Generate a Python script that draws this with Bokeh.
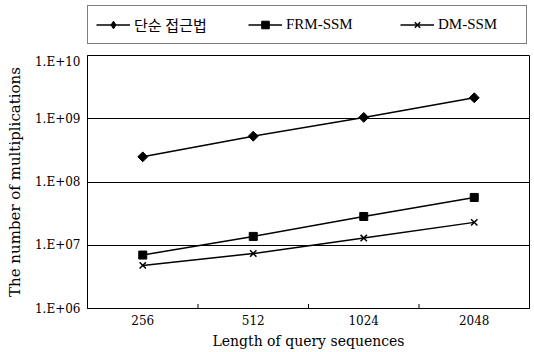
import math
from bokeh.plotting import figure
from bokeh.layouts import column
from bokeh.models import (FactorRange, Range1d, FixedTicker, ColumnDataSource,
                          CustomJSTickFormatter, Legend, LegendItem)
from bokeh.transform import dodge
from bokeh.embed import file_html
from bokeh.resources import INLINE

# ---- data ----
lengths = ["256", "512", "1024", "2048"]
naive = [2.5e8, 5.3e8, 1.05e9, 2.15e9]
frm_ssm = [7.0e6, 1.38e7, 2.85e7, 5.7e7]
dm_ssm = [4.8e6, 7.4e6, 1.3e7, 2.3e7]
y_ticks = [1e6, 1e7, 1e8, 1e9, 1e10]
series_names = ["단순 접근법", "FRM-SSM", "DM-SSM"]
x_title = "Length of query sequences"
y_title = "The number of multiplications"

SERIF = "DejaVu Serif"


def draw_series(fig, for_legend=False):
    r1 = fig.line(lengths, naive, line_color="black", line_width=1.5)
    if for_legend:
        s1 = fig.scatter(lengths, naive, marker="diamond", size=11, color="black")
    else:
        s1 = fig.scatter(lengths, naive, marker="square", angle=math.pi / 4, size=7, color="black")
    r2 = fig.line(lengths, frm_ssm, line_color="black", line_width=1.5)
    s2 = fig.scatter(lengths, frm_ssm, marker="square", size=8, color="black")
    r3 = fig.line(lengths, dm_ssm, line_color="black", line_width=1.5)
    s3 = fig.scatter(lengths, dm_ssm, marker="x", size=9, line_color="black", line_width=1.5)
    return [(r1, s1), (r2, s2), (r3, s3)]


# ---------------- main chart ----------------
p = figure(width=534, height=298,
           x_range=FactorRange(factors=lengths, range_padding=0),
           y_range=Range1d(y_ticks[0], y_ticks[-1]), y_axis_type="log",
           output_backend="svg", toolbar_location=None,
           min_border_left=87, min_border_right=5,
           min_border_top=1, min_border_bottom=44)
p.background_fill_color = "white"
p.border_fill_color = "white"
p.outline_line_color = "black"
p.outline_line_width = 1

xaxis = p.xaxis[0]
xaxis.axis_label = x_title
xaxis.axis_label_text_font = SERIF
xaxis.axis_label_text_font_size = "14px"
xaxis.axis_label_text_font_style = "normal"
xaxis.axis_label_text_color = "black"
xaxis.axis_label_standoff = 5
xaxis.major_label_text_font = SERIF
xaxis.major_label_text_font_size = "12px"
xaxis.major_label_text_color = "black"
xaxis.major_label_standoff = 6
xaxis.major_tick_in = 0
xaxis.major_tick_out = 0
xaxis.axis_line_color = "black"

yaxis = p.yaxis[0]
yaxis.ticker = FixedTicker(ticks=y_ticks, minor_ticks=[])
yaxis.formatter = CustomJSTickFormatter(code="""
const e = Math.round(Math.log10(tick));
return '1.E' + (e >= 0 ? '+' : '-') + String(Math.abs(e)).padStart(2, '0');
""")
yaxis.axis_label = y_title
yaxis.axis_label_text_font = SERIF
yaxis.axis_label_text_font_size = "15px"
yaxis.axis_label_text_font_style = "normal"
yaxis.axis_label_text_color = "black"
yaxis.axis_label_standoff = 8
yaxis.major_label_text_font = SERIF
yaxis.major_label_text_font_size = "12px"
yaxis.major_label_text_color = "black"
yaxis.major_label_standoff = 7
yaxis.major_tick_in = 0
yaxis.major_tick_out = 0
yaxis.axis_line_color = "black"

p.xgrid.visible = False
p.ygrid.grid_line_color = "black"
p.ygrid.grid_line_width = 1
p.ygrid.ticker = FixedTicker(ticks=y_ticks, minor_ticks=[])

# small inward tick marks between categories (on the bottom frame edge)
bound_src = ColumnDataSource(dict(x=lengths[:-1], y=[y_ticks[0]] * (len(lengths) - 1)))
p.scatter(x=dodge("x", 0.5, range=p.x_range), y="y", source=bound_src,
          marker="dash", angle=math.pi / 2, size=9, line_color="black", line_width=1)

draw_series(p)

# ---------------- legend strip above the chart ----------------
lf = figure(width=534, height=54,
            x_range=FactorRange(factors=lengths, range_padding=0),
            y_range=Range1d(0, 1),
            x_axis_location=None, y_axis_location=None,
            output_backend="svg", toolbar_location=None,
            min_border=0)
lf.outline_line_color = None
lf.background_fill_color = "white"
lf.border_fill_color = "white"
lf.grid.visible = False
pairs = draw_series(lf, for_legend=True)   # values lie outside this strip's range: only the legend shows

legend = Legend(items=[LegendItem(label=name, renderers=list(rs))
                       for name, rs in zip(series_names, pairs)],
                orientation="horizontal", location=(0, 10))
legend.border_line_color = "black"
legend.border_line_width = 1
legend.background_fill_color = "white"
legend.background_fill_alpha = 1
legend.label_text_font = "'Liberation Serif', 'Noto Sans CJK KR'"
legend.label_text_font_size = "15px"
legend.label_text_color = "black"
legend.glyph_width = 34
legend.glyph_height = 19
legend.label_standoff = 4
legend.label_width = 80
legend.spacing = 34
legend.padding = 8
legend.margin = 0
lf.add_layout(legend, "center")

page = column(lf, p, spacing=0)
open("out.html", "w").write(file_html(page, INLINE))
